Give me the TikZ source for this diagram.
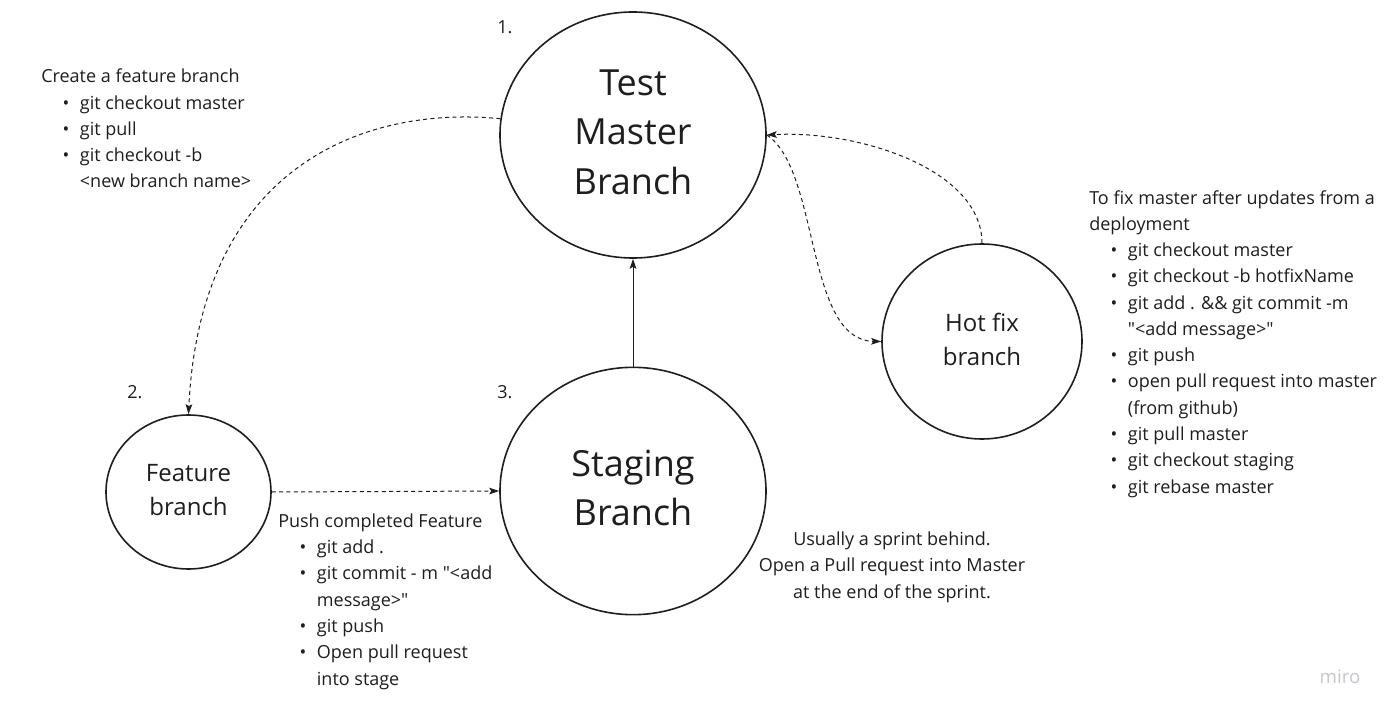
\documentclass[tikz,border=0pt]{standalone}
\usepackage{fontspec}
\setmainfont{Open Sans}[Ligatures=TeXOff]
\usetikzlibrary{shapes.geometric,arrows.meta}
\newcommand{\bitem}[1]{\hspace*{16pt}\makebox[13pt][l]{\textbullet}#1}
\newcommand{\bcont}[1]{\hspace*{29pt}#1}
\definecolor{ink}{HTML}{1E1E1E}
\definecolor{miroc}{HTML}{C6C6D2}
\begin{document}
\begin{tikzpicture}[x=0.75pt,y=-0.75pt,
  circ/.style={draw=ink,ellipse,line width=1.2pt,inner sep=0pt},
  bigtext/.style={inner sep=0pt,align=center,text=ink,yshift=2.2pt,
    font={\fontsize{27pt}{37pt}\selectfont}},
  smalltext/.style={inner sep=0pt,align=center,text=ink,yshift=1.5pt,
    font={\fontsize{18pt}{25.5pt}\selectfont}},
  note/.style={inner sep=0pt,text=ink,font={\fontsize{13.5pt}{19.7pt}\selectfont}},
  dashconn/.style={draw=ink,line width=0.75pt,dash pattern=on 3pt off 2.5pt,
    -{Stealth[length=7.5pt,width=5pt,inset=1.5pt]}},
  solidconn/.style={draw=ink,line width=0.75pt,
    -{Stealth[length=7.5pt,width=5pt,inset=1.5pt]}}]
\fill[white] (0,0) rectangle (1395,716);
\useasboundingbox (0,0) rectangle (1395,716);

\node[circ,minimum width=199.5pt,minimum height=184.5pt,
  label={[bigtext,name=mastertext]center:Test\\Master\\Branch}] (master) at (633,135) {};
\node[circ,minimum width=199.5pt,minimum height=185.5pt,
  label={[bigtext,name=stagingtext]center:Staging\\Branch}] (staging) at (633,491) {};
\node[circ,minimum width=123.75pt,minimum height=115.5pt,
  label={[smalltext,name=featuretext]center:Feature\\branch}] (feature) at (188.5,492) {};
\node[circ,minimum width=150pt,minimum height=146.25pt,
  label={[smalltext,name=hotfixtext]center:Hot fix\\branch}] (hotfix) at (982,341.5) {};

\node[note,anchor=base west] (n1) at (497,34) {1.};
\node[note,anchor=base west] (n2) at (127,398) {2.};
\node[note,anchor=base west] (n3) at (497,398) {3.};

\node[note,anchor=base west,align=left] (create) at (41,188) {Create a feature branch\\
\bitem{git checkout master}\\
\bitem{git pull}\\
\bitem{git checkout -b}\\
\bcont{<new branch name>}};

\node[note,anchor=base west,align=left] (fix) at (1089,493) {To fix master after updates from a\\
deployment\\
\bitem{git checkout master}\\
\bitem{git checkout -b hotfixName}\\
\bitem{git add . \&\& git commit -m}\\
\bcont{"<add message>"}\\
\bitem{git push}\\
\bitem{open pull request into master}\\
\bcont{(from github)}\\
\bitem{git pull master}\\
\bitem{git checkout staging}\\
\bitem{git rebase master}};

\node[note,anchor=base west,align=left] (push) at (278,685) {Push completed Feature\\
\bitem{git add .}\\
\bitem{git commit - m "<add}\\
\bcont{message>"}\\
\bitem{git push}\\
\bitem{Open pull request}\\
\bcont{into stage}};

\node[note,anchor=base,align=center] (usually) at (892,598) {Usually a sprint behind.\\
Open a Pull request into Master\\
at the end of the sprint.};

\node[inner sep=0pt,anchor=base,text=miroc,font={\fontsize{14pt}{16pt}\selectfont}] (miro) at (1340,683) {miro};

\draw[dashconn] (master.173) .. controls (360,105) and (200,170) .. (feature.north);
\draw[dashconn] (hotfix.north) .. controls (982,170) and (860,130) .. (master.east);
\draw[dashconn] (master.east) .. controls (820,170) and (805,340) .. (hotfix.west);
\draw[dashconn] (feature.east) -- (staging.west);
\draw[solidconn] (staging.north) -- (master.south);
\end{tikzpicture}
\end{document}
